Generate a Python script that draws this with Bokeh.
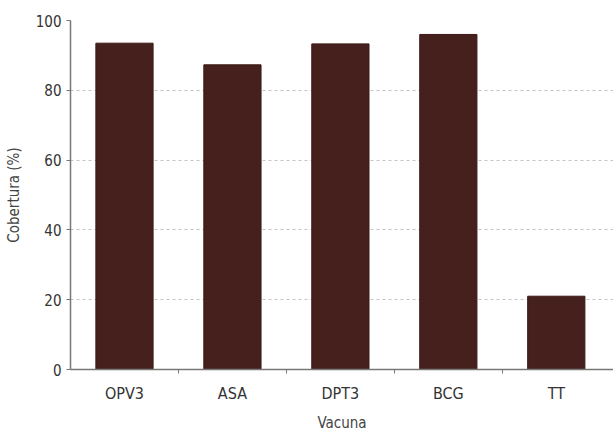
from bokeh.plotting import figure
from bokeh.models import ColumnDataSource, Range1d, FixedTicker, Grid
from bokeh.embed import file_html
from bokeh.resources import INLINE

categories = ["OPV3", "ASA", "DPT3", "BCG", "TT"]
coverage = [93.5, 87.3, 93.3, 96.0, 21.0]
y_ticks = [0, 20, 40, 60, 80, 100]

xpos = [i + 0.5 for i in range(len(categories))]
src = ColumnDataSource(dict(x=xpos, top=coverage, cat=categories))

FONT = "'DejaVu Sans Condensed', 'DejaVu Sans', sans-serif"

p = figure(width=613, height=434, output_backend="svg", toolbar_location=None,
           x_range=Range1d(0, 5.03), y_range=Range1d(0, 100),
           min_border_left=70, min_border_right=0, min_border_top=20, min_border_bottom=62)
p.outline_line_color = None
p.background_fill_color = "white"

p.vbar(x="x", top="top", width=0.53, source=src, fill_color="#45201c", line_color="#3c1916")

# axes
p.xaxis.ticker = FixedTicker(ticks=xpos, minor_ticks=list(range(1, len(categories))))
p.xaxis.major_label_overrides = {x: c for x, c in zip(xpos, categories)}
p.xaxis.minor_tick_line_color = "#777777"
p.xaxis.minor_tick_out = 4
p.xaxis.minor_tick_in = 0
p.xaxis.axis_label = "Vacuna"

p.yaxis.ticker = FixedTicker(ticks=y_ticks)
p.yaxis.minor_tick_line_color = None
p.yaxis.major_tick_out = 4
p.yaxis.major_tick_in = 0
p.yaxis.major_tick_line_color = "#777777"
p.yaxis.axis_label = "Cobertura (%)"

for ax in (p.xaxis[0], p.yaxis[0]):
    ax.axis_line_color = "#777777"
    ax.axis_line_width = 1.5
    ax.major_label_text_font = FONT
    ax.major_label_text_color = "#333333"
    ax.axis_label_text_font = FONT
    ax.axis_label_text_font_size = "15px"
    ax.axis_label_text_font_style = "normal"
    ax.axis_label_text_color = "#444444"
p.xaxis.major_label_text_font_size = "16px"
p.yaxis.major_label_text_font_size = "15px"
p.yaxis.major_label_standoff = 5
p.xaxis.major_label_standoff = 8
p.xaxis.major_tick_line_color = None
p.xaxis.axis_label_standoff = 8
p.yaxis.axis_label_standoff = 10

# grid
p.xgrid.visible = False
p.ygrid.ticker = FixedTicker(ticks=y_ticks[1:-1])
p.ygrid.grid_line_color = "#c4c4c4"
p.ygrid.grid_line_dash = "3 3"
p.ygrid.grid_line_width = 1
top_grid = Grid(dimension=1, ticker=FixedTicker(ticks=[y_ticks[-1]]),
                grid_line_color="#888888", grid_line_width=2)
p.add_layout(top_grid)

open("out.html", "w").write(file_html(p, INLINE))
